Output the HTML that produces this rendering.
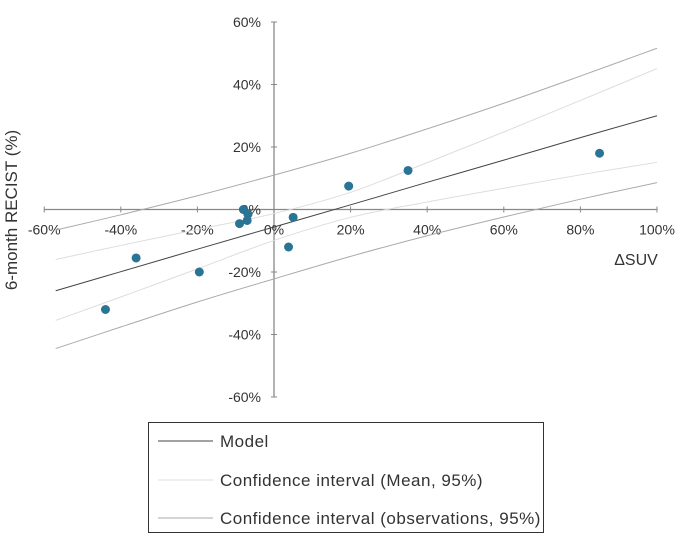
<!DOCTYPE html>
<html><head><meta charset="utf-8"><style>
body{margin:0;background:#fff;font-family:"Liberation Sans",sans-serif}
svg text{font-family:"Liberation Sans",sans-serif}
.lg{letter-spacing:0.5px}
</style></head><body>
<svg width="685" height="541">
<g id="plot"></g>
<text x="17" y="210" font-size="17" fill="#333" text-anchor="middle" transform="rotate(-90 17 210)">6-month RECIST (%)</text>
<text x="636" y="265" font-size="16" fill="#333" text-anchor="middle">ΔSUV</text>
<g>
<rect x="148.5" y="422.5" width="395" height="110" fill="#fff" stroke="#333" stroke-width="1"/>
<line x1="158" y1="441" x2="213" y2="441" stroke="#444"/>
<text class="lg" x="220" y="447" font-size="17" fill="#333">Model</text>
<line x1="158" y1="480" x2="213" y2="480" stroke="#ddd"/>
<text class="lg" x="220" y="486" font-size="17" fill="#333">Confidence interval (Mean, 95%)</text>
<line x1="158" y1="518" x2="213" y2="518" stroke="#aaa"/>
<text class="lg" x="220" y="524" font-size="17" fill="#333">Confidence interval (observations, 95%)</text>
</g>
</svg>
<script>
const pointsX=[-44,-36,-19.5,-9,-8,-7,-6.8,3.8,5,19.5,35,85];
const pointsY=[-32,-15.5,-20,-4.5,0,-3.5,-1.5,-12,-2.5,7.5,12.5,18];
const xTicks=[-60,-40,-20,0,20,40,60,80,100];
const yTicks=[-60,-40,-20,0,20,40,60];
const curveX=[-57,-40,-20,0,20,40,60,80,100];
const modelY=[-26,-19.9,-12.7,-5.6,1.5,8.7,15.8,23,30];
const meanUpper=[-16,-11.5,-6.4,-1.3,5.5,15,24.8,34.9,45.1];
const meanLower=[-35.5,-28,-19,-9.9,-2.5,2.4,6.8,11.1,15.1];
const obsUpper=[-6.6,-1.7,4.4,11,18,25.8,34,42.7,51.6];
const obsLower=[-44.5,-37.6,-29.6,-22.2,-15,-8.4,-2.4,3.3,8.6];
const NS="http://www.w3.org/2000/svg";
const g=document.getElementById('plot');
const sx=v=>274+v*3.83;
const sy=v=>209.5-v*3.125;
function mk(t,a){const e=document.createElementNS(NS,t);for(const k in a)e.setAttribute(k,a[k]);g.appendChild(e);return e;}
function smoothPath(xs,ys){
  const p=xs.map((x,i)=>[sx(x),sy(ys[i])]);
  let d='M'+p[0][0]+','+p[0][1];
  for(let i=0;i<p.length-1;i++){
    const p0=p[Math.max(i-1,0)],p1=p[i],p2=p[i+1],p3=p[Math.min(i+2,p.length-1)];
    const c1=[p1[0]+(p2[0]-p0[0])/6,p1[1]+(p2[1]-p0[1])/6];
    const c2=[p2[0]-(p3[0]-p1[0])/6,p2[1]-(p3[1]-p1[1])/6];
    d+=' C'+c1+' '+c2+' '+p2;
  }
  return d;
}
let ax=mk('line',{x1:sx(-60),y1:sy(0),x2:sx(100),y2:sy(0),stroke:'#888','stroke-width':1.3});


let ay=mk('line',{x1:sx(0),y1:sy(60),x2:sx(0),y2:sy(-60),stroke:'#888','stroke-width':1.3});


xTicks.forEach(v=>{
  const t=mk('line',{x1:sx(v),y1:sy(0)-3,x2:sx(v),y2:sy(0)+3,stroke:'#888'});
  
  
  const l=mk('text',{x:sx(v),y:sy(0)+25,'font-size':14,fill:'#333','text-anchor':'middle'});
  l.textContent=v+'%';
  
  
});
yTicks.forEach(v=>{
  const t=mk('line',{x1:sx(0)-3,y1:sy(v),x2:sx(0)+3,y2:sy(v),stroke:'#888'});
  
  
  const l=mk('text',{x:sx(0)-13,y:sy(v)+5,'font-size':14,fill:'#333','text-anchor':'end'});
  l.textContent=v+'%';
  
  
});
[[obsUpper,'#aaa','obs-ci-upper'],[obsLower,'#aaa','obs-ci-lower'],[meanUpper,'#ddd','mean-ci-upper'],[meanLower,'#ddd','mean-ci-lower'],[modelY,'#444','model-line']].forEach(([ys,c,n])=>{
  const p=mk('path',{d:smoothPath(curveX,ys),fill:'none',stroke:c,'stroke-width':1});
  
  
});
pointsX.forEach((x,i)=>{
  const c=mk('circle',{cx:sx(x),cy:sy(pointsY[i]),r:4.5,fill:'#2a7496'});
  
  
});
</script>
</body></html>
